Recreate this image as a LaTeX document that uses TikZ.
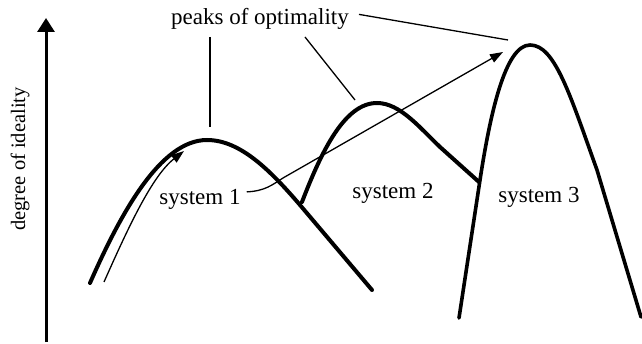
\documentclass[tikz,border=0pt]{standalone}
\usepackage{fontspec}
\setmainfont{Liberation Serif}
\usetikzlibrary{arrows.meta}
\begin{document}
\begin{tikzpicture}[x=1pt,y=-1pt,
  curve/.style={line width=4pt,line join=round,line cap=round},
  leader/.style={line width=1.3pt},
  thinarrow/.style={line width=1.3pt,-{Triangle[length=13pt,width=9pt]}},
  lbl/.style={inner sep=0pt,font=\fontsize{23}{27}\selectfont,anchor=base}]
\useasboundingbox (0,0) rectangle (642,344);
% axis
\coordinate (axb) at (46,342);
\coordinate (axt) at (46,18);
\draw[line width=3pt,-{Triangle[length=14pt,width=17pt]}] (axb) -- (axt);
\node[lbl,rotate=90,font=\fontsize{20.5}{24}\selectfont] (axl) at (25,159) {degree of ideality};
% curves
\draw[curve] (90,283) .. controls (120,215) and (160,140) .. (207,140)
  .. controls (240,140) and (270,170) .. (300,205) -- (372,290);
\draw[curve] (302,202) .. controls (322,150) and (345,103) .. (377,103)
  .. controls (400,103) and (420,128) .. (440,147) -- (479,182);
\draw[line width=3.6pt,line join=round,line cap=round] (459,318) -- (480,180)
  .. controls (490,115) and (505,45) .. (530,45)
  .. controls (555,45) and (570,95) .. (597,170) -- (641,317);
% labels
\node[lbl] (peaks) at (260,25) {peaks of optimality};
\node[lbl] (s1) at (200,205) {system 1};
\node[lbl] (s2) at (393,199) {system 2};
\node[lbl] (s3) at (539,203) {system 3};
% leader lines
\coordinate (p1) at (210,127);
\coordinate (p2) at (355,100);
\coordinate (p3) at (508,40);
\draw[leader] (210,37) -- (p1);
\draw[leader] (305,37) -- (p2);
\draw[leader] (peaks.east) ++(10,-5) -- (p3);
% arrows
\coordinate (a1s) at (104,282);
\coordinate (a1e) at (184,151);
\draw[thinarrow] (a1s) .. controls (128,228) and (152,176) .. (a1e);
\coordinate (a2e) at (503,52);
\draw[thinarrow] (s1.east) ++(6,-8) .. controls (265,191) and (272,185) .. (283,178) -- (a2e);
\end{tikzpicture}
\end{document}
